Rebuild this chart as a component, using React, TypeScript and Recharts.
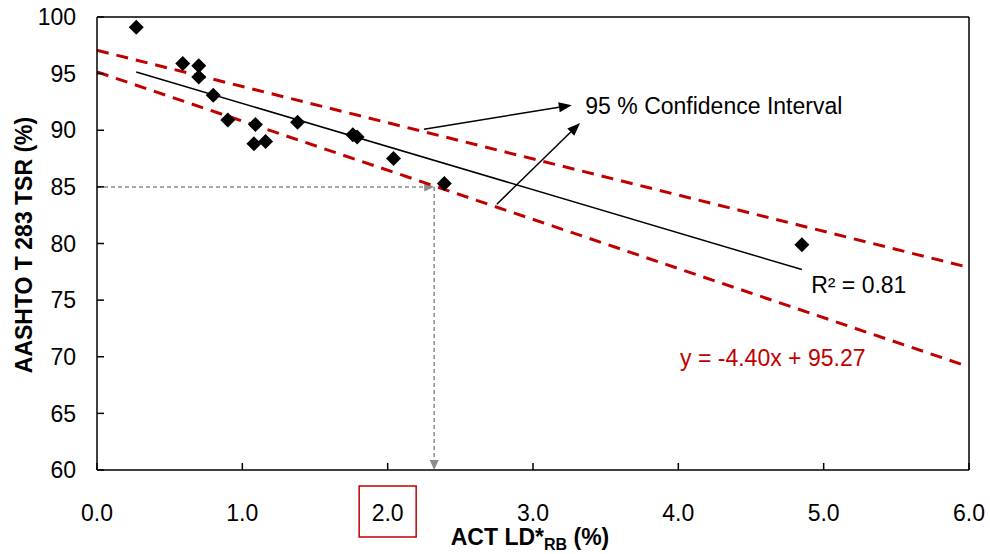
import React from 'react';
import {
  ScatterChart,
  Scatter,
  XAxis,
  YAxis,
  ReferenceLine,
  ReferenceDot,
} from 'recharts';

// measured points (ACT LD*RB %, AASHTO T 283 TSR %)
const actLd = [0.27, 0.59, 0.7, 0.7, 0.8, 0.9, 1.09, 1.08, 1.16, 1.38, 1.76, 1.79, 2.04, 2.39, 4.85];
const tsr = [99.1, 95.9, 95.7, 94.7, 93.1, 90.9, 90.5, 88.8, 89.0, 90.7, 89.6, 89.4, 87.5, 85.3, 79.9];

const xTicks = [0, 1, 2, 3, 4, 5, 6];
const yTicks = [60, 65, 70, 75, 80, 85, 90, 95, 100];
const boxedTick = 2;

// fitted trend and 95 % confidence bounds
const trendLine = [{ x: 0.27, y: 95.15 }, { x: 4.85, y: 77.7 }];
const upperBound = [{ x: 0, y: 97.06 }, { x: 6, y: 77.88 }];
const lowerBound = [{ x: 0, y: 95.15 }, { x: 6, y: 69.11 }];

// read-off at TSR = 85 %
const readOffX = 2.32;
const readOffY = 85;

// arrows pointing from the bounds to the label
const ciArrowUpper = [{ x: 2.25, y: 90.09 }, { x: 3.267, y: 92.21 }];
const ciArrowLower = [{ x: 2.751, y: 83.47 }, { x: 3.324, y: 90.64 }];

const ciLabel = { x: 3.36, y: 92.12, text: '95 % Confidence Interval' };
const r2Label = { x: 4.914, y: 76.31, text: 'R² = 0.81' };
const eqLabel = { x: 4.012, y: 69.88, text: 'y = -4.40x + 95.27' };

const FONT = "'Liberation Sans', Arial, sans-serif";
const RED = '#C00000';

const points = actLd.map((x, i) => ({ x, y: tsr[i] }));

const Diamond = (props: any) => {
  const { cx, cy } = props;
  const r = 7.5;
  return (
    <polygon
      points={`${cx},${cy - r} ${cx + r},${cy} ${cx},${cy + r} ${cx - r},${cy}`}
      fill="#000"
    />
  );
};

const arrowShape =
  (color: string, width: number, dash: string | undefined, head: number, headW: number) =>
  (p: any) => {
    const { x1, y1, x2, y2 } = p;
    const dx = x2 - x1;
    const dy = y2 - y1;
    const len = Math.hypot(dx, dy) || 1;
    const ux = dx / len;
    const uy = dy / len;
    const bx = x2 - ux * head;
    const by = y2 - uy * head;
    const px = (-uy * headW) / 2;
    const py = (ux * headW) / 2;
    return (
      <g>
        <line x1={x1} y1={y1} x2={bx} y2={by} stroke={color} strokeWidth={width} strokeDasharray={dash} />
        <polygon points={`${x2},${y2} ${bx + px},${by + py} ${bx - px},${by - py}`} fill={color} />
      </g>
    );
  };

const textShape = (text: string, color: string) => (p: any) => (
  <text
    x={p.cx}
    y={p.cy}
    dominantBaseline="central"
    fontFamily={FONT}
    fontSize={23}
    fill={color}
  >
    {text}
  </text>
);

const XTick = (props: any) => {
  const { x, y, payload } = props;
  return (
    <g>
      {payload.value === boxedTick && (
        <rect x={x - 28.5} y={y - 19} width={57} height={51} fill="none" stroke={RED} strokeWidth={1.5} />
      )}
      <text x={x} y={y} dy="0.71em" textAnchor="middle" fontFamily={FONT} fontSize={23} fill="#000">
        {payload.value.toFixed(1)}
      </text>
    </g>
  );
};

const XTitle = (props: any) => {
  const { x, y, width } = props.viewBox;
  return (
    <text x={x + width / 2 - 3} y={y + 75} textAnchor="middle" fontFamily={FONT} fontSize={23} fontWeight="bold" fill="#000">
      <tspan>ACT LD*</tspan>
      <tspan fontSize={16} dy={5}>RB</tspan>
      <tspan dy={-5}> (%)</tspan>
    </text>
  );
};

const YTitle = (props: any) => {
  const { x, y, height } = props.viewBox;
  const cx = x + 24;
  const cy = y + height / 2 + 1.5;
  return (
    <text
      x={cx}
      y={cy}
      transform={`rotate(-90, ${cx}, ${cy})`}
      textAnchor="middle"
      dominantBaseline="central"
      fontFamily={FONT}
      fontSize={23}
      fontWeight="bold"
      fill="#000"
    >
      AASHTO T 283 TSR (%)
    </text>
  );
};

export default function App() {
  return (
    <div style={{ position: 'absolute', left: 0, top: 0, width: 990, height: 554, background: '#fff' }}>
      <ScatterChart width={990} height={554} margin={{ top: 17, right: 21, bottom: 0, left: 0 }}>
        <XAxis
          type="number"
          dataKey="x"
          domain={[0, 6]}
          ticks={xTicks}
          interval={0}
          allowDataOverflow
          height={84}
          tickSize={-7}
          tickMargin={42}
          axisLine={{ stroke: '#000', strokeWidth: 1.5 }}
          tickLine={{ stroke: '#000', strokeWidth: 1.5 }}
          tick={<XTick />}
          label={<XTitle />}
        />
        <YAxis
          type="number"
          dataKey="y"
          domain={[60, 100]}
          ticks={yTicks}
          interval={0}
          allowDataOverflow
          width={97}
          tickSize={-7}
          tickMargin={28}
          axisLine={{ stroke: '#000', strokeWidth: 1.5 }}
          tickLine={{ stroke: '#000', strokeWidth: 1.5 }}
          tick={{ fontFamily: FONT, fontSize: 23, fill: '#000' }}
          label={<YTitle />}
        />
        <ReferenceLine y={100} stroke="#000" strokeWidth={1.5} />
        <ReferenceLine x={6} stroke="#000" strokeWidth={1.5} />

        <ReferenceLine
          segment={[{ x: 0, y: readOffY }, { x: readOffX, y: readOffY }]}
          shape={arrowShape('#8c8c8c', 1.5, '4 3', 10, 9)}
        />
        <ReferenceLine
          segment={[{ x: readOffX, y: readOffY }, { x: readOffX, y: 60 }]}
          shape={arrowShape('#8c8c8c', 1.5, '4 3', 10, 9)}
        />

        <Scatter data={points} shape={<Diamond />} isAnimationActive={false} />

        <ReferenceLine segment={trendLine} stroke="#000" strokeWidth={1.5} />
        <ReferenceLine segment={upperBound} stroke={RED} strokeWidth={3} strokeDasharray="12 8" />
        <ReferenceLine segment={lowerBound} stroke={RED} strokeWidth={3} strokeDasharray="12 8" />

        <ReferenceLine segment={ciArrowUpper} shape={arrowShape('#000', 1.5, undefined, 13, 10)} />
        <ReferenceLine segment={ciArrowLower} shape={arrowShape('#000', 1.5, undefined, 13, 10)} />

        <ReferenceDot x={ciLabel.x} y={ciLabel.y} r={0} shape={textShape(ciLabel.text, '#000')} />
        <ReferenceDot x={r2Label.x} y={r2Label.y} r={0} shape={textShape(r2Label.text, '#000')} />
        <ReferenceDot x={eqLabel.x} y={eqLabel.y} r={0} shape={textShape(eqLabel.text, RED)} />
      </ScatterChart>
    </div>
  );
}
